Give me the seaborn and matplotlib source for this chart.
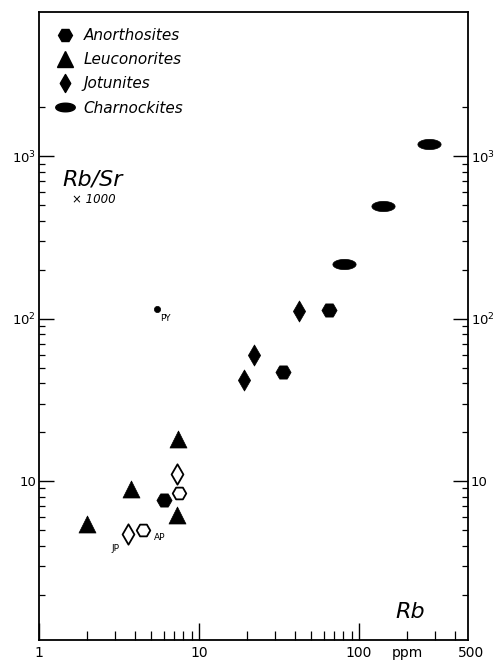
import numpy as np
import pandas as pd
import matplotlib
matplotlib.use("Agg")
import matplotlib.pyplot as plt
from matplotlib.path import Path
from matplotlib.lines import Line2D
from matplotlib.transforms import ScaledTranslation
from matplotlib.ticker import FixedLocator, FixedFormatter, NullFormatter
import seaborn as sns

# ---- data (Rb ppm, Rb/Sr x1000) ----
anor_rb = [6.0, 33.6, 65.0]
anor_rs = [7.6, 47.0, 113.0]
anor_open_rb = [7.5, 4.45]
anor_open_rs = [8.5, 5.0]
leuco_rb = [2.0, 3.75, 7.4, 7.3]
leuco_rs = [5.45, 8.9, 18.2, 6.2]
jotu_rb = [19.2, 22.2, 42.4]
jotu_rs = [42.0, 60.0, 112.0]
jotu_open_rb = [7.3, 3.58]
jotu_open_rs = [11.1, 4.7]
charn_rb = [80.5, 142.0, 275.0]
charn_rs = [217.0, 496.0, 1194.0]
py_rb = [5.5]
py_rs = [115.0]

legend_labels = ["Anorthosites", "Leuconorites", "Jotunites", "Charnockites"]
x_major = [1, 10, 100]
x_major_labels = ["1", "10", "100"]
y_major = [10, 100, 1000]
y_major_labels = ["10", "$10^2$", "$10^3$"]

# ---- custom markers ----
diamond = Path([(0, 1), (0.58, 0), (0, -1), (-0.58, 0), (0, 1)],
               [Path.MOVETO, Path.LINETO, Path.LINETO, Path.LINETO, Path.CLOSEPOLY])
t = np.linspace(0, 2 * np.pi, 60)
ell_v = np.column_stack([np.cos(t), 0.44 * np.sin(t)])
ellipse = Path(ell_v, closed=True)

sns.set_style("ticks")
plt.rcParams["font.family"] = ["DejaVu Sans"]
plt.rcParams["text.color"] = "black"
plt.rcParams["xtick.color"] = "black"
plt.rcParams["ytick.color"] = "black"
plt.rcParams["axes.edgecolor"] = "black"

fig = plt.figure(figsize=(5.03, 6.61), dpi=100)
ax = fig.add_axes([39 / 503, 21 / 661, (468 - 39) / 503, (640 - 12) / 661])
ax.set_xscale("log")
ax.set_yscale("log")

def df(x, y):
    return pd.DataFrame({"x": x, "y": y})

kw = dict(x="x", y="y", ax=ax, legend=False, zorder=3)
sns.scatterplot(data=df(anor_rb, anor_rs), marker="H", s=120, color="black", edgecolor="black", linewidth=0.5, **kw)
sns.scatterplot(data=df(anor_open_rb, anor_open_rs), marker="H", s=95, facecolor="white", edgecolor="black", linewidth=1.3, **kw)
sns.scatterplot(data=df(leuco_rb, leuco_rs), marker="^", s=150, color="black", edgecolor="black", linewidth=0.5, **kw)
sns.scatterplot(data=df(jotu_rb, jotu_rs), marker=diamond, s=230, color="black", edgecolor="black", linewidth=0.5, **kw)
sns.scatterplot(data=df(jotu_open_rb, jotu_open_rs), marker=diamond, s=215, facecolor="white", edgecolor="black", linewidth=1.3, **kw)
sns.scatterplot(data=df(charn_rb, charn_rs), marker=ellipse, s=280, color="black", edgecolor="black", linewidth=0.5, **kw)
sns.scatterplot(data=df(py_rb, py_rs), marker="o", s=20, color="black", edgecolor="black", linewidth=0.5, **kw)

ax.text(5.75, 100, "PY", fontsize=6.5, ha="left", va="center")
ax.text(2.85, 3.85, "JP", fontsize=6.5, ha="left", va="center")
ax.text(5.2, 4.5, "AP", fontsize=6.5, ha="left", va="center")

ax.set_xlim(1, 480)
ax.set_ylim(1.05, 7740)

# x ticks
ax.xaxis.set_major_locator(FixedLocator(x_major))
ax.xaxis.set_major_formatter(FixedFormatter(x_major_labels))
xminor = [2, 3, 4, 5, 6, 7, 8, 9, 20, 30, 40, 50, 60, 70, 80, 90, 200, 300, 400]
ax.xaxis.set_minor_locator(FixedLocator(xminor))
ax.xaxis.set_minor_formatter(FixedFormatter(["" if v != 200 else "ppm" for v in xminor]))
ax.tick_params(axis="x", which="major", direction="in", length=12, width=1.0,
               labelsize=10, pad=4, top=False)
ax.tick_params(axis="x", which="minor", direction="in", length=6.5, width=0.9,
               labelsize=10, pad=4, top=False)
off = ScaledTranslation(0, -4 / 72, fig.dpi_scale_trans)
ax.text(500, 0, "500", transform=ax.get_xaxis_transform() + off, ha="center", va="top",
        fontsize=10, clip_on=False)

# y ticks (both sides)
ax.yaxis.set_major_locator(FixedLocator(y_major))
ax.yaxis.set_major_formatter(FixedFormatter(y_major_labels))
yminor = [m * d for d in (1, 10, 100) for m in range(2, 10)] + [2000]
ax.yaxis.set_minor_locator(FixedLocator(yminor))
ax.yaxis.set_minor_formatter(NullFormatter())
ax.tick_params(axis="y", which="major", direction="in", length=11, width=1.0,
               labelsize=9.5, left=True, right=True, labelleft=True, labelright=True, pad=2)
ax.tick_params(axis="y", which="minor", direction="in", length=4.5, width=0.9,
               left=True, right=True)

for s in ax.spines.values():
    s.set_linewidth(1.3)
    s.set_color("black")

ax.set_xlabel("")
ax.set_ylabel("")

# annotations
ax.text(0.055, 0.733, "Rb/Sr", transform=ax.transAxes, fontsize=16, style="italic",
        ha="left", va="center")
ax.text(0.078, 0.702, "× 1000", transform=ax.transAxes, fontsize=8.5, style="italic",
        ha="left", va="center")
ax.text(0.83, 0.044, "Rb", transform=ax.transAxes, fontsize=16, style="italic",
        ha="left", va="center")

handles = [
    Line2D([], [], marker="H", color="black", linestyle="none", markersize=10),
    Line2D([], [], marker="^", color="black", linestyle="none", markersize=11),
    Line2D([], [], marker=diamond, color="black", linestyle="none", markersize=13),
    Line2D([], [], marker=ellipse, color="black", linestyle="none", markersize=14),
]
leg = ax.legend(handles, legend_labels, loc="upper left", bbox_to_anchor=(0.01, 0.995),
                frameon=False, prop={"size": 11, "style": "italic"},
                handletextpad=0.7, labelspacing=0.6, handlelength=1.1, borderpad=0.35)

fig.savefig("out.png", dpi=100)
